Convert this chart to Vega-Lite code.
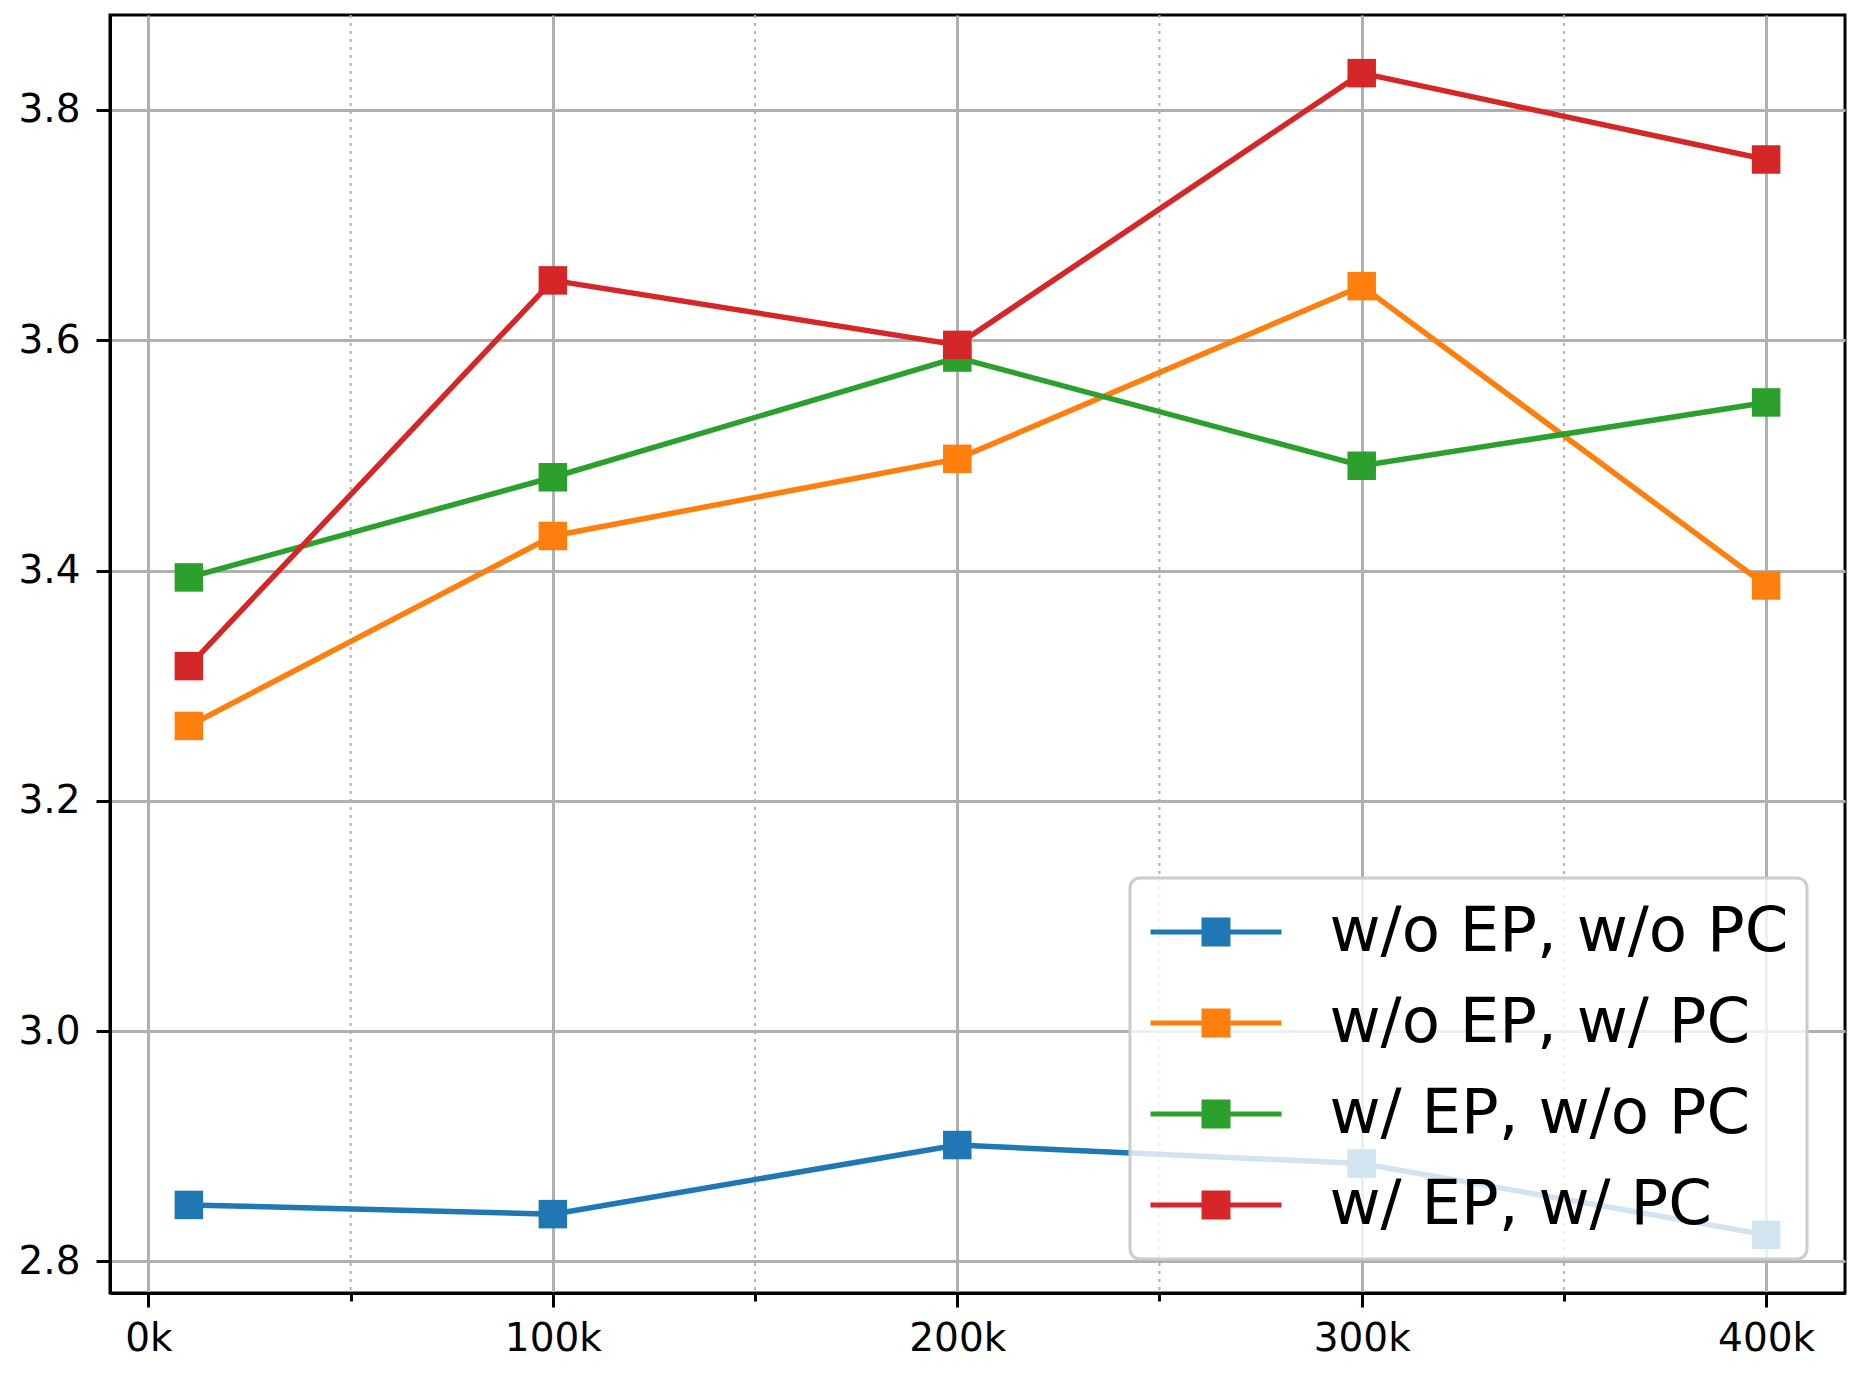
{
  "$schema": "https://vega.github.io/schema/vega-lite/v6.json",
  "width": 1735,
  "height": 1278,
  "autosize": {"type": "none"},
  "padding": {"left": 110, "top": 15, "right": 14, "bottom": 85},
  "background": "white",
  "config": {
    "font": "DejaVu Sans",
    "view": {"stroke": "black", "strokeWidth": 3}
  },
  "datasets": {
    "main": [
      {"step": 10000, "value": 2.849, "series": "w/o EP, w/o PC"},
      {"step": 100000, "value": 2.841, "series": "w/o EP, w/o PC"},
      {"step": 200000, "value": 2.901, "series": "w/o EP, w/o PC"},
      {"step": 300000, "value": 2.885, "series": "w/o EP, w/o PC"},
      {"step": 400000, "value": 2.823, "series": "w/o EP, w/o PC"},
      {"step": 10000, "value": 3.265, "series": "w/o EP, w/ PC"},
      {"step": 100000, "value": 3.430, "series": "w/o EP, w/ PC"},
      {"step": 200000, "value": 3.497, "series": "w/o EP, w/ PC"},
      {"step": 300000, "value": 3.647, "series": "w/o EP, w/ PC"},
      {"step": 400000, "value": 3.387, "series": "w/o EP, w/ PC"},
      {"step": 10000, "value": 3.394, "series": "w/ EP, w/o PC"},
      {"step": 100000, "value": 3.481, "series": "w/ EP, w/o PC"},
      {"step": 200000, "value": 3.585, "series": "w/ EP, w/o PC"},
      {"step": 300000, "value": 3.491, "series": "w/ EP, w/o PC"},
      {"step": 400000, "value": 3.546, "series": "w/ EP, w/o PC"},
      {"step": 10000, "value": 3.317, "series": "w/ EP, w/ PC"},
      {"step": 100000, "value": 3.652, "series": "w/ EP, w/ PC"},
      {"step": 200000, "value": 3.596, "series": "w/ EP, w/ PC"},
      {"step": 300000, "value": 3.832, "series": "w/ EP, w/ PC"},
      {"step": 400000, "value": 3.757, "series": "w/ EP, w/ PC"}
    ],
    "minor": [
      {"step": 50000}, {"step": 150000}, {"step": 250000}, {"step": 350000}
    ]
  },
  "layer": [
    {
      "data": {"name": "minor"},
      "mark": {"type": "rule", "color": "#b0b0b0", "strokeWidth": 2, "strokeDash": [3, 5]},
      "encoding": {
        "x": {"field": "step", "type": "quantitative"}
      }
    },
    {
      "data": {"name": "main"},
      "encoding": {
        "x": {
          "field": "step",
          "type": "quantitative",
          "scale": {"domain": [-9500, 419500], "nice": false, "zero": false},
          "axis": {
            "title": null,
            "values": [0, 50000, 100000, 150000, 200000, 250000, 300000, 350000, 400000],
            "labelExpr": "datum.value % 100000 === 0 ? (datum.value / 1000) + 'k' : ''",
            "grid": true,
            "gridColor": "#b0b0b0",
            "gridWidth": 3,
            "gridOpacity": {"condition": {"test": "datum.value % 100000 !== 0", "value": 0}, "value": 1},
            "tickSize": {"condition": {"test": "datum.value % 100000 !== 0", "value": 8}, "value": 14},
            "tickWidth": 3,
            "tickColor": "black",
            "domainColor": "black",
            "domainWidth": 3,
            "labelFontSize": 39,
            "labelColor": "black",
            "labelFont": "DejaVu Sans",
            "labelPadding": 12
          }
        },
        "y": {
          "field": "value",
          "type": "quantitative",
          "scale": {"domain": [2.7725, 3.8825], "nice": false, "zero": false},
          "axis": {
            "title": null,
            "values": [2.8, 3.0, 3.2, 3.4, 3.6, 3.8],
            "format": ".1f",
            "grid": true,
            "gridColor": "#b0b0b0",
            "gridWidth": 3,
            "tickSize": 14,
            "tickWidth": 3,
            "tickColor": "black",
            "domainColor": "black",
            "domainWidth": 3,
            "labelFontSize": 39,
            "labelColor": "black",
            "labelFont": "DejaVu Sans",
            "labelPadding": 16
          }
        },
        "color": {
          "field": "series",
          "type": "nominal",
          "scale": {
            "domain": ["w/o EP, w/o PC", "w/o EP, w/ PC", "w/ EP, w/o PC", "w/ EP, w/ PC"],
            "range": ["#1f77b4", "#ff7f0e", "#2ca02c", "#d62728"]
          },
          "legend": {
            "title": null,
            "orient": "none",
            "legendX": 1020,
            "legendY": 863,
            "labelFontSize": 62.5,
            "labelFont": "DejaVu Sans",
            "labelColor": "black",
            "labelLimit": 1000,
            "symbolType": "M-1,0H1M-0.183,-0.183H0.183V0.183H-0.183Z",
            "symbolSize": 17161,
            "symbolStrokeWidth": 5,
            "labelOffset": 45.5,
            "padding": 18,
            "clipHeight": 72,
            "rowPadding": 19,
            "fillColor": "rgba(255,255,255,0.8)",
            "strokeColor": "#cccccc",
            "cornerRadius": 10,
            "encode": {
              "legend": {"update": {"strokeWidth": {"value": 3}, "width": {"value": 647}}},
              "symbols": {
                "update": {
                  "fill": {"scale": "color", "field": "value"},
                  "stroke": {"scale": "color", "field": "value"},
                  "opacity": {"value": 1}
                }
              }
            }
          }
        }
      },
      "layer": [
        {"mark": {"type": "line", "strokeWidth": 5.5}},
        {"mark": {"type": "point", "shape": "square", "filled": true, "size": 812, "opacity": 1}}
      ]
    }
  ]
}
